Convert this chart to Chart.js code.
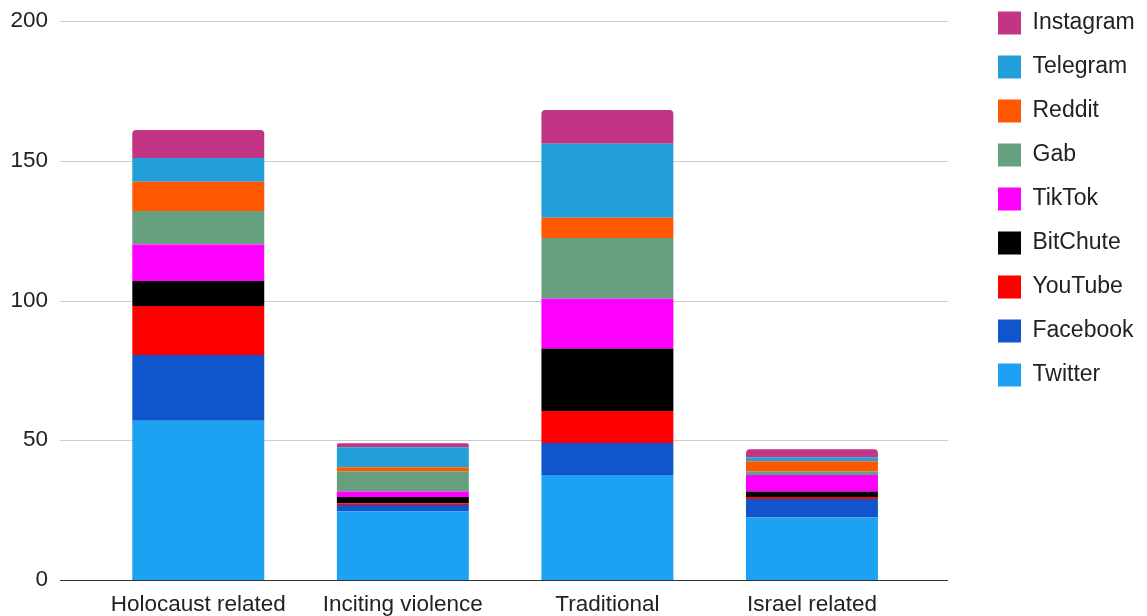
<!DOCTYPE html>
<html>
<head>
<meta charset="utf-8">
<script src="https://cdn.jsdelivr.net/npm/chart.js@4.4.1/dist/chart.umd.min.js"></script>
<style>
  html, body { margin: 0; padding: 0; background: #fff; }
  canvas { display: block; }
</style>
</head>
<body>
<canvas id="platformChart" width="1147" height="616"></canvas>
<script>
// categories and per-platform counts (bottom of stack first)
const categories = ["Holocaust related", "Inciting violence", "Traditional", "Israel related"];

const twitter   = [57, 24.6, 37.6, 22.4];
const facebook  = [23.5, 2.2, 11.4, 6.6];
const youtube   = [17.5, 0.7, 11.5, 0.7];
const bitchute  = [9, 2.2, 22.3, 2];
const tiktok    = [13, 2, 17.8, 5.9];
const gab       = [12, 7.2, 21.8, 1.3];
const reddit    = [10.5, 1.4, 7.2, 3.6];
const telegram  = [8.5, 7.2, 26.5, 1.4];
const instagram = [10, 1.4, 12.1, 2.9];

const yTicks = [0, 50, 100, 150, 200];

const FONT = "'Liberation Sans', Arial, sans-serif";
const TEXT = "#222222";

// gridlines run wider than the bar area, like the original
const GRID_LEFT = 60;
const GRID_RIGHT = 948;

const gridPlugin = {
  id: "wideGrid",
  beforeDatasetsDraw(chart) {
    const y = chart.scales.y;
    const ctx = chart.ctx;
    ctx.save();
    ctx.lineWidth = 1;
    ctx.strokeStyle = "#cccccc";
    yTicks.forEach(function (v) {
      if (v === 0) return;
      const py = Math.round(y.getPixelForValue(v)) + 0.5;
      ctx.beginPath();
      ctx.moveTo(GRID_LEFT, py);
      ctx.lineTo(GRID_RIGHT, py);
      ctx.stroke();
    });
    ctx.restore();
  },
  afterDatasetsDraw(chart) {
    const y = chart.scales.y;
    const ctx = chart.ctx;
    const py = Math.round(y.getPixelForValue(0)) + 0.5;
    ctx.save();
    ctx.strokeStyle = "#333333";
    ctx.lineWidth = 1;
    ctx.beginPath();
    ctx.moveTo(GRID_LEFT, py);
    ctx.lineTo(GRID_RIGHT, py);
    ctx.stroke();
    ctx.restore();
  },
  afterLayout(chart) {
    // push the legend to the far right edge
    const lg = chart.legend;
    const w = lg.width, h = lg.height;
    lg.left = 977;
    lg.right = lg.left + w;
    lg.top = -9.5;
    lg.bottom = lg.top + h;
  }
};

function ds(label, data, color) {
  return {
    label: label,
    data: data,
    backgroundColor: color,
    borderWidth: 0,
    borderRadius: 4,
    categoryPercentage: 1,
    barPercentage: 0.645
  };
}

const ctx = document.getElementById("platformChart").getContext("2d");

new Chart(ctx, {
  type: "bar",
  data: {
    labels: categories,
    datasets: [
      ds("Twitter", twitter, "#1da1f2"),
      ds("Facebook", facebook, "#1155cc"),
      ds("YouTube", youtube, "#ff0000"),
      ds("BitChute", bitchute, "#000000"),
      ds("TikTok", tiktok, "#ff00ff"),
      ds("Gab", gab, "#66a07e"),
      ds("Reddit", reddit, "#ff5700"),
      ds("Telegram", telegram, "#229ed9"),
      ds("Instagram", instagram, "#c13584")
    ]
  },
  options: {
    responsive: false,
    animation: false,
    layout: { padding: { top: 21, right: 65, bottom: -13, left: 0 } },
    plugins: {
      tooltip: { enabled: false },
      legend: {
        position: "right",
        align: "start",
        reverse: true,
        labels: {
          boxWidth: 23,
          boxHeight: 23,
          padding: 21,
          color: TEXT,
          font: { family: FONT, size: 23 }
        }
      }
    },
    scales: {
      x: {
        stacked: true,
        grid: { display: false, drawTicks: false },
        border: { display: false },
        ticks: {
          padding: 11,
          color: TEXT,
          maxRotation: 0,
          font: { family: FONT, size: 22.5 }
        }
      },
      y: {
        stacked: true,
        min: 0,
        max: 200,
        afterFit: function (scale) {
          scale.width = 96;
          scale.paddingTop = 12;
          scale.paddingBottom = 12;
        },
        grid: { display: false, drawTicks: false },
        border: { display: false },
        ticks: {
          stepSize: 50,
          padding: 48,
          color: TEXT,
          font: { family: FONT, size: 22.5 }
        }
      }
    }
  },
  plugins: [gridPlugin]
});
</script>
</body>
</html>
